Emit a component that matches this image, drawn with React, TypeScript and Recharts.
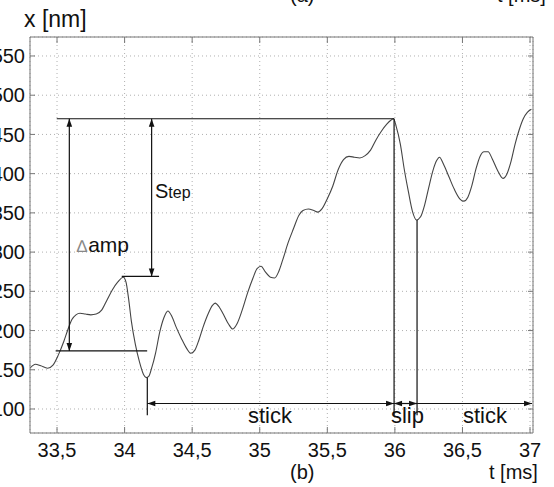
import React from 'react';
import { LineChart, Line, XAxis, YAxis, CartesianGrid, ReferenceLine, ReferenceDot } from 'recharts';

// time axis [ms]
const tValues = [
  33.30, 33.34, 33.38, 33.43, 33.47, 33.51, 33.55, 33.58, 33.61, 33.64, 33.67, 33.71, 33.75, 33.79, 33.83,
  33.87, 33.91, 33.95, 33.99, 34.01, 34.03, 34.05, 34.08, 34.11, 34.14, 34.16, 34.18, 34.20, 34.23, 34.26,
  34.29, 34.32, 34.35, 34.38, 34.42, 34.46, 34.49, 34.52, 34.55, 34.58, 34.62, 34.65, 34.67, 34.70, 34.73,
  34.77, 34.80, 34.83, 34.87, 34.91, 34.95, 34.98, 35.01, 35.04, 35.08, 35.11, 35.14, 35.17, 35.21, 35.25,
  35.29, 35.32, 35.36, 35.40, 35.43, 35.46, 35.50, 35.54, 35.58, 35.62, 35.66, 35.70, 35.74, 35.78, 35.82,
  35.86, 35.90, 35.94, 35.97, 35.99, 36.01, 36.04, 36.07, 36.10, 36.13, 36.16, 36.19, 36.22, 36.25, 36.28,
  36.31, 36.33, 36.36, 36.40, 36.44, 36.48, 36.51, 36.54, 36.57, 36.60, 36.63, 36.66, 36.69, 36.72, 36.76,
  36.80, 36.83, 36.86, 36.89, 36.92, 36.95, 36.98, 37.01,
];
// displacement [nm]
const xValues = [
  152, 157, 155, 152, 156, 169, 186, 201, 214, 220, 222, 221, 220, 221, 226,
  239, 252, 262, 268, 262, 240, 212, 182, 160, 144, 140, 142, 152, 172, 198,
  216, 225, 218, 205, 190, 177, 171, 175, 188, 204, 222, 232, 235, 230, 221,
  208, 202, 208, 226, 248, 267, 279, 282, 275, 268, 267, 275, 290, 312, 330,
  347, 353, 355, 353, 351, 355, 368, 384, 405, 418, 422, 421, 420, 423, 430,
  443, 454, 463, 468, 470, 460, 438, 405, 377, 352, 341, 345, 360, 382, 403,
  417, 421, 412, 396, 380, 368, 365, 370, 385, 406, 422, 428, 428, 419, 404,
  394, 400, 416, 438, 456, 470, 478, 482,
];

const xTicks = [33.5, 34, 34.5, 35, 35.5, 36, 36.5, 37];
const yTicks = [100, 150, 200, 250, 300, 350, 400, 450, 500, 550];

// annotation levels / times
const stepTop = 470;
const ampBottom = 174;
const stepBottom = 269;
const arrowLevel = 107;
const lineFoot = 92;
const tSlipStart = 35.994;
const tSlipEnd = 36.164;
const tStickStart = 34.168;
const tAmp = 33.591;
const tStep = 34.2;
const troughA = 140;
const troughB = 341;

const rows = tValues.map((t, i) => ({ t, v: xValues[i] }));

const FONT = '"Liberation Sans", Arial, Helvetica, sans-serif';
const INK = '#111';

const head = (tx: number, ty: number, ux: number, uy: number, key: string) => {
  const L = 8, W = 2.8;
  const bx = tx - ux * L, by = ty - uy * L;
  const px = -uy, py = ux;
  return (
    <polygon
      key={key}
      points={`${tx},${ty} ${bx + px * W},${by + py * W} ${bx - px * W},${by - py * W}`}
      fill={INK}
    />
  );
};

const arrowShape = (start: boolean, end: boolean) => (p: any) => {
  const { x1, y1, x2, y2 } = p;
  const dx = x2 - x1, dy = y2 - y1;
  const L = Math.hypot(dx, dy) || 1;
  const ux = dx / L, uy = dy / L;
  return (
    <g>
      <line x1={x1} y1={y1} x2={x2} y2={y2} stroke={INK} strokeWidth={1.2} />
      {start ? head(x1, y1, -ux, -uy, 's') : null}
      {end ? head(x2, y2, ux, uy, 'e') : null}
    </g>
  );
};

const textShape = (content: React.ReactNode, size: number) => (p: any) => (
  <text x={p.cx} y={p.cy} fontFamily={FONT} fontSize={size} fill={INK}>
    {content}
  </text>
);

const fmt = (v: number) => String(v).replace('.', ',');

export default function App() {
  return (
    <div style={{ position: 'absolute', left: 0, top: 0, width: 554, height: 487, background: '#fff' }}>
      <LineChart width={554} height={487} data={rows} margin={{ top: 36, right: 20, bottom: 24, left: 0 }}>
        <CartesianGrid stroke="#b0b0b0" strokeDasharray="1 3" />
        <XAxis
          dataKey="t"
          type="number"
          domain={[33.3, 37.022]}
          ticks={xTicks}
          interval={0}
          allowDataOverflow
          tickFormatter={fmt}
          tickSize={-6}
          tickMargin={16}
          height={30}
          stroke="#777"
          tick={{ fill: INK, fontSize: 20, fontFamily: FONT }}
        />
        <XAxis
          xAxisId="top"
          orientation="top"
          type="number"
          dataKey="t"
          domain={[33.3, 37.022]}
          ticks={xTicks}
          interval={0}
          allowDataOverflow
          tickSize={-6}
          height={1}
          stroke="#777"
          tick={() => <g />}
        />
        <YAxis
          type="number"
          domain={[69.4, 574.2]}
          ticks={yTicks}
          interval={0}
          allowDataOverflow
          tickSize={-5}
          tickMargin={10}
          width={30}
          stroke="#777"
          tick={{ fill: INK, fontSize: 20, fontFamily: FONT }}
        />
        <YAxis
          yAxisId="right"
          orientation="right"
          type="number"
          domain={[69.4, 574.2]}
          ticks={yTicks}
          interval={0}
          allowDataOverflow
          tickSize={-5}
          width={1}
          stroke="#777"
          tick={() => <g />}
        />
        <Line dataKey="v" type="monotone" dot={false} stroke="#444" strokeWidth={1.1} isAnimationActive={false} />

        {/* top reference line */}
        <ReferenceLine ifOverflow="visible" segment={[{ x: 33.498, y: stepTop }, { x: tSlipStart, y: stepTop }]} shape={arrowShape(false, false)} />
        {/* Δamp */}
        <ReferenceLine ifOverflow="visible" segment={[{ x: tAmp, y: ampBottom }, { x: tAmp, y: stepTop }]} shape={arrowShape(true, true)} />
        <ReferenceLine ifOverflow="visible" segment={[{ x: 33.49, y: ampBottom }, { x: 34.167, y: ampBottom }]} shape={arrowShape(false, false)} />
        {/* Step */}
        <ReferenceLine ifOverflow="visible" segment={[{ x: tStep, y: stepBottom }, { x: tStep, y: stepTop }]} shape={arrowShape(true, true)} />
        <ReferenceLine ifOverflow="visible" segment={[{ x: 33.979, y: stepBottom }, { x: 34.255, y: stepBottom }]} shape={arrowShape(false, false)} />
        {/* verticals */}
        <ReferenceLine ifOverflow="visible" segment={[{ x: tStickStart, y: troughA }, { x: tStickStart, y: lineFoot }]} shape={arrowShape(false, false)} />
        <ReferenceLine ifOverflow="visible" segment={[{ x: tSlipStart, y: stepTop }, { x: tSlipStart, y: lineFoot }]} shape={arrowShape(false, false)} />
        <ReferenceLine ifOverflow="visible" segment={[{ x: tSlipEnd, y: troughB }, { x: tSlipEnd, y: lineFoot }]} shape={arrowShape(false, false)} />
        {/* stick / slip arrows */}
        <ReferenceLine ifOverflow="visible" segment={[{ x: tStickStart, y: arrowLevel }, { x: tSlipStart, y: arrowLevel }]} shape={arrowShape(true, true)} />
        <ReferenceLine ifOverflow="visible" segment={[{ x: tSlipStart, y: arrowLevel }, { x: tSlipEnd, y: arrowLevel }]} shape={arrowShape(true, true)} />
        <ReferenceLine ifOverflow="visible" segment={[{ x: tSlipEnd, y: arrowLevel }, { x: 37.015, y: arrowLevel }]} shape={arrowShape(false, true)} />

        {/* annotation texts */}
        <ReferenceDot
          ifOverflow="visible"
          x={33.646}
          y={300}
          shape={textShape(
            <>
              <tspan fill="#888" fontSize={17}>∆</tspan>
              <tspan dx={1}>amp</tspan>
            </>,
            21
          )}
        />
        <ReferenceDot
          ifOverflow="visible"
          x={34.225}
          y={369}
          shape={textShape(
            <>
              <tspan fontSize={20}>S</tspan>
              <tspan fontSize={16}>tep</tspan>
            </>,
            20
          )}
        />
        <ReferenceDot ifOverflow="visible" x={34.913} y={82} shape={textShape('stick', 22)} />
        <ReferenceDot ifOverflow="visible" x={35.971} y={82} shape={textShape('slip', 22)} />
        <ReferenceDot ifOverflow="visible" x={36.504} y={82} shape={textShape('stick', 22)} />
      </LineChart>
      <svg
        width={554}
        height={487}
        style={{ position: 'absolute', left: 0, top: 0, pointerEvents: 'none' }}
        fontFamily={FONT}
        fill={INK}
      >
        <text x={24} y={27} fontSize={23}>x [nm]</text>
        <text x={290} y={2} fontSize={20}>(a)</text>
        <text x={497} y={2} fontSize={20}>t [ms]</text>
        <text x={290} y={479} fontSize={20}>(b)</text>
        <text x={489} y={479} fontSize={20}>t [ms]</text>
      </svg>
    </div>
  );
}
